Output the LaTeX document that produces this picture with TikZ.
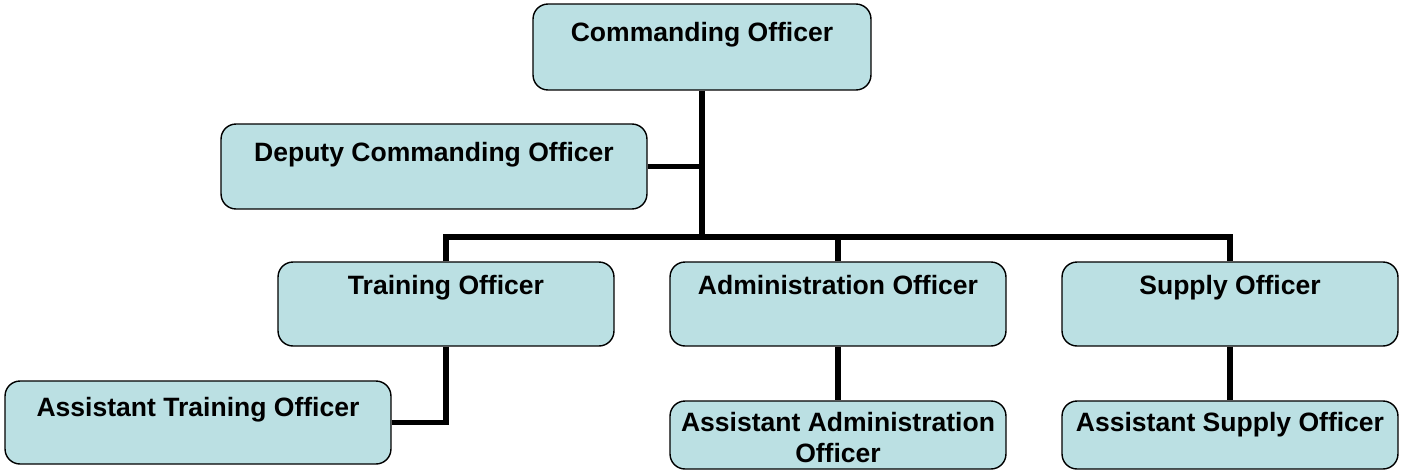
\documentclass[tikz,border=0pt]{standalone}
\usepackage{fontspec}
\setmainfont{Liberation Sans}
\definecolor{postblue}{RGB}{187,224,227}
\tikzset{
  post/.style={draw, fill=postblue, rounded corners=0.3cm, line width=0.8pt, inner sep=0pt},
  title/.style={font=\bfseries\fontsize{15.1}{17.6}\selectfont, align=center, inner sep=0pt, anchor=base},
  link/.style={line width=3.4pt, line join=miter}
}
\begin{document}
\begin{tikzpicture}[x=0.02cm, y=-0.02cm]
\useasboundingbox (0,0) rectangle (1404,471);

% boxes
\node[post, minimum width=6.76cm, minimum height=1.72cm] (co) at (702,47) {};
\node[post, minimum width=8.52cm, minimum height=1.70cm] (dco) at (434,166.5) {};
\foreach \n/\x in {to/446, ao/838, so/1230}{
  \node[post, minimum width=6.72cm, minimum height=1.68cm] (\n) at (\x,304) {};
}
\node[post, minimum width=7.72cm, minimum height=1.66cm] (ato) at (198,422.5) {};
\node[post, minimum width=6.72cm, minimum height=1.36cm] (aao) at (838,435) {};
\node[post, minimum width=6.72cm, minimum height=1.36cm] (aso) at (1230,435) {};

% texts (base = last line)
\node[title] (co-t) at ([yshift=-0.76cm]co.north) {Commanding Officer};
\node[title] (dco-t) at ([yshift=-0.76cm]dco.north) {Deputy Commanding Officer};
\node[title] (to-t) at ([yshift=-0.66cm]to.north) {Training Officer};
\node[title] (ao-t) at ([yshift=-0.66cm]ao.north) {Administration Officer};
\node[title] (so-t) at ([yshift=-0.66cm]so.north) {Supply Officer};
\node[title] (ato-t) at ([yshift=-0.72cm]ato.north) {Assistant Training Officer};
\node[title] (aao-t) at ([yshift=-1.24cm]aao.north) {Assistant Administration\\Officer};
\node[title] (aso-t) at ([yshift=-0.62cm]aso.north) {Assistant Supply Officer};

% lines
\coordinate (hub) at (702,237);
\draw[link] (co.south) -- (hub);
\draw[link] (dco.east) -- (dco.east -| co.south);
\draw[link] (to.north) |- (hub) -| (so.north);
\draw[link] (ao.north) -- (ao.north |- hub);
\draw[link] (to.south) |- (ato.east);
\draw[link] (ao.south) -- (aao.north);
\draw[link] (so.south) -- (aso.north);
\end{tikzpicture}
\end{document}
